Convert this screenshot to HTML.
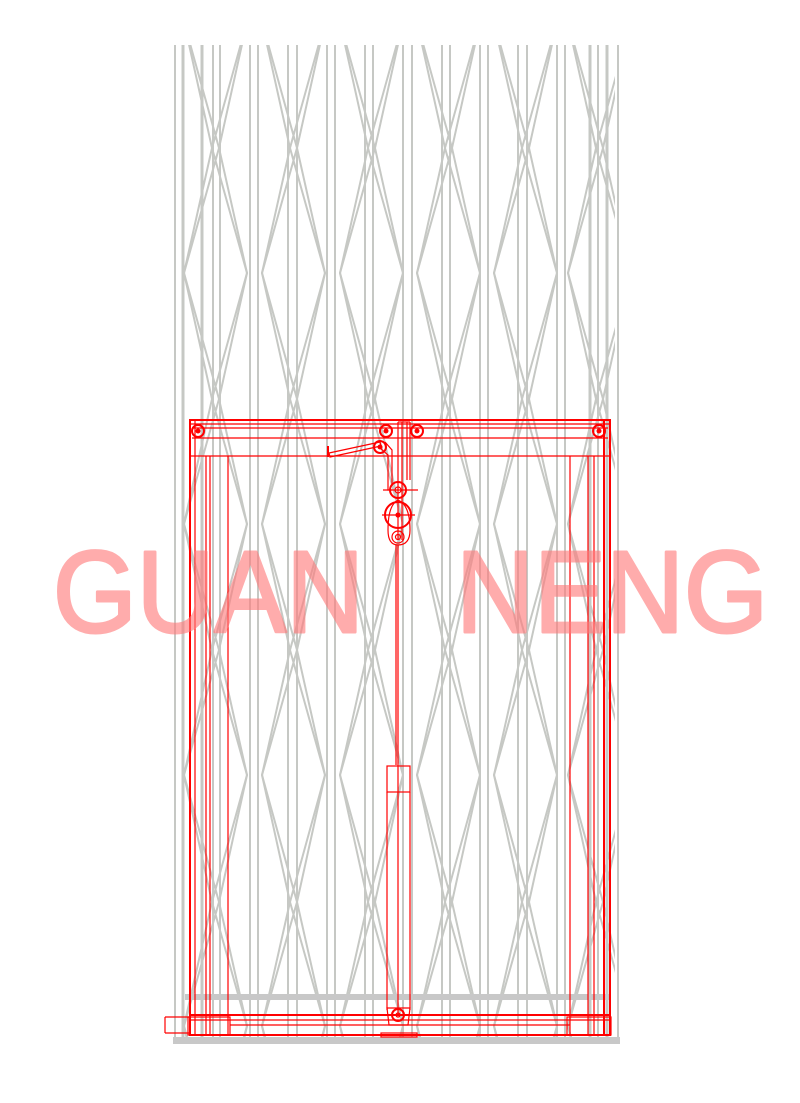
<!DOCTYPE html>
<html><head><style>html,body{margin:0;padding:0;background:#fff}svg{display:block}</style></head><body>
<svg width="800" height="1103" viewBox="0 0 800 1103" xmlns="http://www.w3.org/2000/svg">
<defs>
<clipPath id="cp"><rect x="170" y="45" width="450" height="995"/></clipPath>
<clipPath id="cp2"><rect x="560" y="45" width="55" height="995"/></clipPath>
<g id="zz" fill="none" stroke="#c6c8c4" stroke-width="2">
<polyline points="0,-103 35,22 0,148 35,273 0,399 35,524 0,650 35,775 0,902 35,1026 0,1152"/>
<polyline points="7,-103 35,22 7,148 35,273 7,399 35,524 7,650 35,775 7,902 35,1026 7,1152"/>
<polyline points="7,-103 -28,22 7,148 -28,273 7,399 -28,524 7,650 -28,775 7,902 -28,1026 7,1152"/>
<polyline points="0,-103 -28,22 0,148 -28,273 0,399 -28,524 0,650 -28,775 0,902 -28,1026 0,1152"/>
</g>
</defs>
<g clip-path="url(#cp)">
<g stroke="#c6c8c4" stroke-width="2">
<line x1="175" y1="45" x2="175" y2="1040"/><line x1="183" y1="45" x2="183" y2="1040" stroke-width="3"/>
<line x1="202" y1="45" x2="202" y2="1040" stroke-width="3"/><line x1="213" y1="45" x2="213" y2="1040"/>
<line x1="220" y1="45" x2="220" y2="1040"/><line x1="250" y1="45" x2="250" y2="1040"/>
<line x1="258" y1="45" x2="258" y2="1040"/><line x1="288" y1="45" x2="288" y2="1040"/>
<line x1="297" y1="45" x2="297" y2="1040"/><line x1="327" y1="45" x2="327" y2="1040"/>
<line x1="335" y1="45" x2="335" y2="1040"/><line x1="365" y1="45" x2="365" y2="1040"/>
<line x1="373" y1="45" x2="373" y2="1040"/><line x1="403" y1="45" x2="403" y2="1040"/>
<line x1="412" y1="45" x2="412" y2="1040"/><line x1="442" y1="45" x2="442" y2="1040"/>
<line x1="450" y1="45" x2="450" y2="1040"/><line x1="480" y1="45" x2="480" y2="1040"/>
<line x1="488" y1="45" x2="488" y2="1040"/><line x1="518" y1="45" x2="518" y2="1040"/>
<line x1="527" y1="45" x2="527" y2="1040"/><line x1="557" y1="45" x2="557" y2="1040"/>
<line x1="565" y1="45" x2="565" y2="1040"/><line x1="590" y1="45" x2="590" y2="1040" stroke-width="3"/>
<line x1="598" y1="45" x2="598" y2="1040"/><line x1="607" y1="45" x2="607" y2="1040" stroke-width="3"/>
<line x1="618" y1="45" x2="618" y2="1040"/>
</g>
<use href="#zz" x="212"/><use href="#zz" x="290"/><use href="#zz" x="368"/>
<use href="#zz" x="445"/><use href="#zz" x="522"/>
<g clip-path="url(#cp2)"><use href="#zz" x="596"/></g>
</g>
<rect x="185" y="994" width="425" height="6" fill="#c8c8c8"/>
<rect x="173" y="1037" width="447" height="7" fill="#c8c8c8"/>
<g fill="none" stroke="#f00" stroke-width="1.2">
<rect x="190" y="420" width="420" height="615" stroke-width="2"/>
<line x1="190" y1="424" x2="610" y2="424"/><line x1="192" y1="428" x2="608" y2="428"/>
<line x1="192" y1="438" x2="608" y2="438"/><line x1="190" y1="456" x2="610" y2="456"/>
<line x1="195" y1="420" x2="195" y2="1035"/><line x1="206" y1="456" x2="206" y2="1035"/>
<line x1="210" y1="456" x2="210" y2="1035"/><line x1="228" y1="456" x2="228" y2="1035"/>
<line x1="570" y1="456" x2="570" y2="1035"/><line x1="588" y1="456" x2="588" y2="1035"/>
<line x1="594" y1="456" x2="594" y2="1035"/><line x1="604" y1="420" x2="604" y2="1035" stroke-width="2"/>
<line x1="190" y1="1015" x2="610" y2="1015" stroke-width="2"/><line x1="190" y1="1020" x2="610" y2="1020"/>
<line x1="230" y1="1025" x2="570" y2="1025"/>
<rect x="188" y="1017" width="42" height="18"/><rect x="567" y="1017" width="44" height="18"/>
<line x1="165" y1="1017" x2="165" y2="1033"/><line x1="165" y1="1017" x2="190" y2="1017"/><line x1="165" y1="1033" x2="190" y2="1033"/>
<rect x="381" y="1033" width="36" height="4"/>
<line x1="398" y1="422" x2="398" y2="540"/><line x1="402" y1="422" x2="402" y2="540"/>
<line x1="410" y1="422" x2="410" y2="480"/><line x1="407" y1="422" x2="407" y2="480"/>
<line x1="398" y1="422" x2="410" y2="422"/>
<path d="M388 530 Q388 505 398 500 Q410 505 410 530 Q410 545 398 545 Q388 545 388 530Z"/>
<circle cx="398" cy="515" r="13" stroke-width="2"/><circle cx="398" cy="515" r="2" fill="#f00"/>
<line x1="382" y1="515" x2="415" y2="515"/>
<circle cx="398" cy="490" r="8" stroke-width="2"/><circle cx="398" cy="490" r="3"/>
<line x1="383" y1="490" x2="418" y2="490"/>
<circle cx="398" cy="537" r="6"/><circle cx="398" cy="537" r="2.5"/>
<path d="M380 448 L388 455 L388 490 L392 490"/><path d="M385 442 L392 450 L392 486"/>
<line x1="398" y1="545" x2="398" y2="1015"/><line x1="396" y1="545" x2="396" y2="765"/>
<rect x="387" y="766" width="23" height="26"/>
<line x1="387" y1="792" x2="387" y2="1010"/><line x1="410" y1="792" x2="410" y2="1010"/>
<path d="M387 1008 L410 1008 L408 1025 L389 1025Z"/>
<circle cx="398" cy="1015" r="6" stroke-width="2"/><circle cx="398" cy="1015" r="2"/>
<path d="M329 453 L380 442 L381 446 L330 457Z"/><line x1="328" y1="446" x2="328" y2="457" stroke-width="2"/>
</g>
<g fill="none" stroke="#f00" stroke-width="2">
<circle cx="198" cy="431" r="6"/><circle cx="386" cy="431" r="6"/><circle cx="417" cy="431" r="6"/>
<circle cx="599" cy="431" r="6"/><circle cx="380" cy="447" r="6"/>
</g>
<g fill="#f00">
<circle cx="198" cy="431" r="2.5"/><circle cx="386" cy="431" r="2.5"/><circle cx="417" cy="431" r="2.5"/>
<circle cx="599" cy="431" r="2.5"/><circle cx="380" cy="447" r="2.5"/>
</g>
<g opacity="0.62" font-family="Liberation Sans, sans-serif" font-size="116" fill="#ff7a7a" stroke="#ff7a7a" stroke-width="3" stroke-linejoin="round">
<text x="53" y="632" textLength="311" lengthAdjust="spacingAndGlyphs">GUAN</text>
<text x="456" y="632" textLength="312" lengthAdjust="spacingAndGlyphs">NENG</text>
</g>
</svg>
</body></html>
